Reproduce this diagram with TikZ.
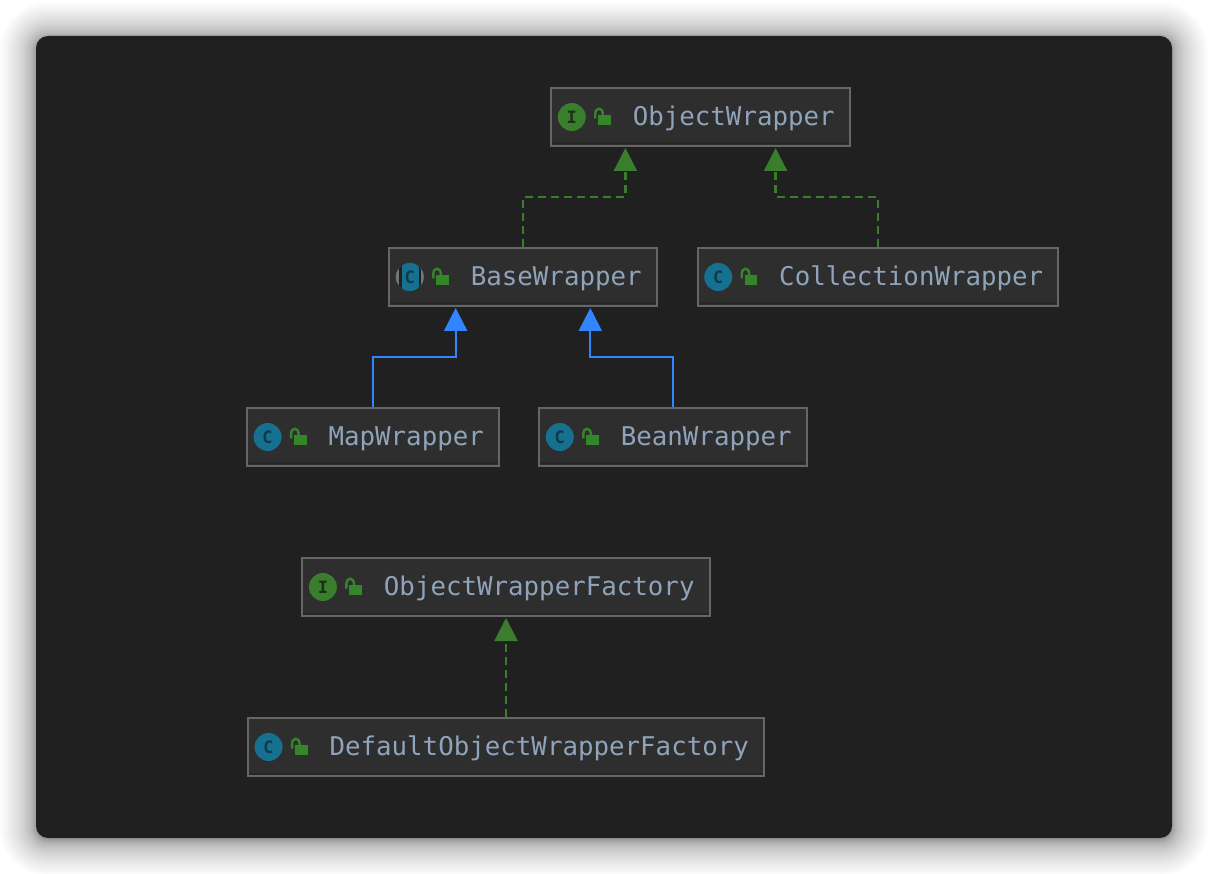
\documentclass[tikz,border=0pt]{standalone}
\usepackage{fontspec}
\setmonofont{DejaVu Sans Mono}
\usetikzlibrary{arrows.meta,positioning,calc}
\definecolor{panel}{RGB}{32,32,32}
\definecolor{relleno}{RGB}{46,46,46}
\definecolor{rellenoosc}{RGB}{38,38,38}
\definecolor{borde}{RGB}{102,102,102}
\definecolor{texto}{RGB}{143,163,186}
\definecolor{verde}{RGB}{58,125,44}
\definecolor{verdelock}{RGB}{52,135,40}
\definecolor{verdeosc}{RGB}{25,50,20}
\definecolor{azul}{RGB}{51,133,255}
\definecolor{teal}{RGB}{22,112,143}
\definecolor{tealosc}{RGB}{14,58,76}
\definecolor{grisic}{RGB}{112,120,124}
\tikzset{
  classbox/.style={draw=borde,fill=relleno,line width=2pt,minimum height=58pt,inner xsep=0pt,inner ysep=0pt,
    text=texto,font=\ttfamily\fontsize{25.8}{30}\selectfont,text height=20pt,text depth=3pt,
    execute at begin node=\hspace*{81.5pt},execute at end node=\hspace*{15pt}},
  classicon/.style={circle,fill=teal,minimum size=28pt,inner sep=0pt,text=tealosc,font=\ttfamily\bfseries\fontsize{17}{17}\selectfont},
  ifaceicon/.style={circle,fill=verde,minimum size=28pt,inner sep=0pt,text=verdeosc,font=\ttfamily\bfseries\fontsize{17}{17}\selectfont},
  abstracticon/.style={classicon,fill=grisic,path picture={
    \fill[panel] ($(path picture bounding box.north)+(-11,0)$) rectangle ($(path picture bounding box.south)+(11,0)$);
    \fill[teal] ($(path picture bounding box.north)+(-8,0)$) rectangle ($(path picture bounding box.south)+(9,0)$);}},
  implline/.style={draw=verde,line width=2.4pt,dash pattern=on 8pt off 5pt,-{Triangle[width=23pt,length=23pt,fill=verde]},shorten >=1pt},
  extline/.style={draw=azul,line width=2.2pt,-{Triangle[width=23pt,length=23pt,fill=azul]},shorten >=1pt},
  lockicon/.pic={
    \fill[verdelock] (48,-2) rectangle (60.5,8);
    \draw[verdelock,line width=2.4pt] (45,1.5) -- (45,-3) .. controls (45,-10) and (52.5,-10) .. (52.5,-3) -- (52.5,-1);
  }
}
\begin{document}
\begin{tikzpicture}[x=1pt,y=-1pt]
\useasboundingbox (0,0) rectangle (1208,874);
\fill[white] (0,0) rectangle (1208,874);
\foreach \i in {1,...,36}{
  \pgfmathsetmacro{\r}{36*(\i/36)^2}
  \fill[black,opacity=0.011,rounded corners=12pt+\r pt] (36-\r,38-\r) rectangle (1172+\r,840+\r);
}
\fill[panel,rounded corners=12pt] (36,36) rectangle (1172,838);
\node[classbox] (objwrapper) at (700.5,117) {ObjectWrapper};
\node[classbox] (basewrapper) at (523,277) {BaseWrapper};
\node[classbox] (collwrapper) at (878,277) {CollectionWrapper};
\node[classbox] (mapwrapper) at (373,437) {MapWrapper};
\node[classbox] (beanwrapper) at (673,437) {BeanWrapper};
\node[classbox] (objfactory) at (506,587) {ObjectWrapperFactory};
\node[classbox] (deffactory) at (506,747) {DefaultObjectWrapperFactory};
\foreach \n/\s/\t in {objwrapper/ifaceicon/I,basewrapper/abstracticon/C,collwrapper/classicon/C,mapwrapper/classicon/C,beanwrapper/classicon/C,objfactory/ifaceicon/I,deffactory/classicon/C}{
  \draw[rellenoosc,line width=2pt] ($(\n.south west)+(2,-3.5)$) -- ($(\n.south east)+(-2,-3.5)$);
  \draw[borde,line width=2pt] ($(\n.south west)+(0,-1)$) -- ($(\n.south east)+(0,-1)$);
  \node[\s] (icon\n) at ($(\n.west)+(21.5,0)$) {\t};
  \pic at (\n.west) {lockicon};
}
\coordinate (objleft) at ($(objwrapper.south west)!0.25!(objwrapper.south east)$);
\coordinate (objright) at ($(objwrapper.south west)!0.75!(objwrapper.south east)$);
\coordinate (baseleft) at ($(basewrapper.south west)!0.25!(basewrapper.south east)$);
\coordinate (baseright) at ($(basewrapper.south west)!0.75!(basewrapper.south east)$);
\draw[implline] (basewrapper.north) -- ++(0,-50) -| (objleft);
\draw[implline] (collwrapper.north) -- ++(0,-50) -| (objright);
\draw[extline] (mapwrapper.north) -- ++(0,-50) -| (baseleft);
\draw[extline] (beanwrapper.north) -- ++(0,-50) -| (baseright);
\draw[implline] (deffactory.north) -- (objfactory.south);
\end{tikzpicture}
\end{document}
